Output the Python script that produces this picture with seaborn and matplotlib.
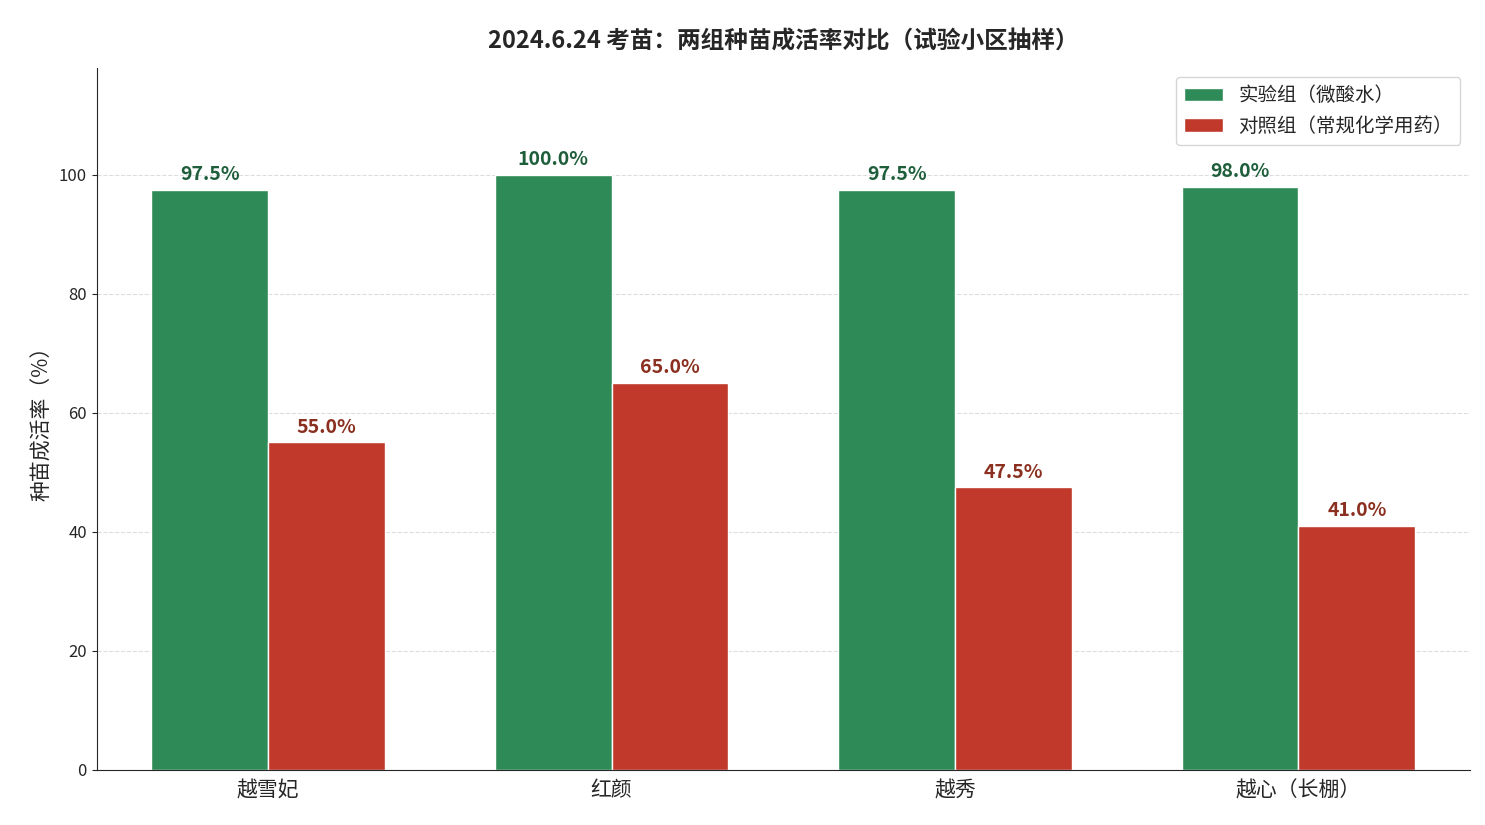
import pandas as pd
import matplotlib.pyplot as plt
import seaborn as sns

varieties = ["越雪妃", "红颜", "越秀", "越心（长棚）"]
groups = ["实验组（微酸水）", "对照组（常规化学用药）"]
exp_rates = [97.5, 100.0, 97.5, 98.0]
ctrl_rates = [55.0, 65.0, 47.5, 41.0]

df = pd.DataFrame({
    "品种": varieties * 2,
    "组别": [groups[0]] * 4 + [groups[1]] * 4,
    "成活率": exp_rates + ctrl_rates,
})

sns.set_style("white")
plt.rcParams['font.family'] = ['Noto Sans CJK SC', 'DejaVu Sans']

fig = plt.figure(figsize=(14.85, 8.25), dpi=100)
ax = fig.add_axes([0.065, 0.067, 0.925, 0.851])
sns.barplot(data=df, x="品种", y="成活率", hue="组别",
            palette=["#2e8b57", "#c0392b"], width=0.68, saturation=1, ax=ax)

label_colors = ["#1e5e3a", "#8b3020"]
for cont, col in zip(ax.containers, label_colors):
    ax.bar_label(cont, labels=[f"{v:.1f}%" for v in cont.datavalues],
                 padding=4, color=col, fontsize=14, fontweight="bold")

ax.set_ylim(0, 118)
ax.set_yticks([0, 20, 40, 60, 80, 100])
ax.yaxis.grid(True, linestyle="--", color="#dddddd")
ax.set_axisbelow(True)
sns.despine(ax=ax)
ax.set_xlabel("")
ax.set_ylabel("种苗成活率（%）", fontsize=15)
ax.tick_params(axis="x", labelsize=15)
ax.tick_params(axis="y", labelsize=12, left=True)
ax.set_title("2024.6.24 考苗：两组种苗成活率对比（试验小区抽样）",
             fontsize=17, fontweight="bold", pad=14)
ax.legend(loc="upper right", fontsize=14, title=None, frameon=True)

fig.savefig("out.png", dpi=100)
